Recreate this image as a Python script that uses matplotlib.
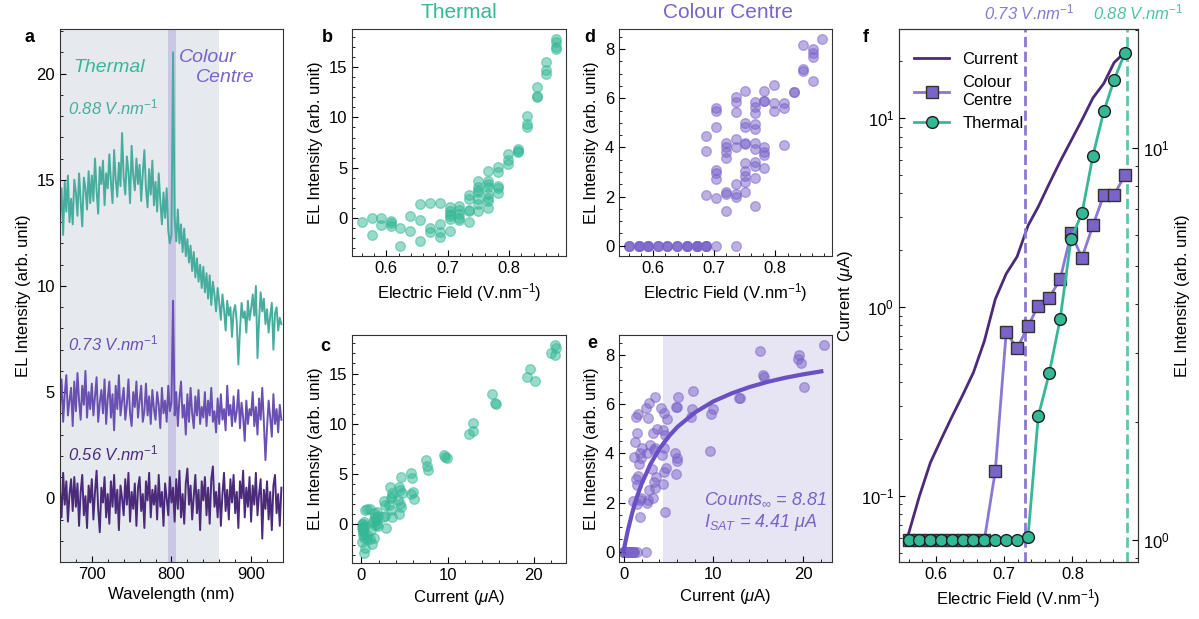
import numpy as np
import matplotlib.pyplot as plt
from matplotlib.ticker import AutoMinorLocator
import matplotlib.transforms as mtransforms
from matplotlib.lines import Line2D

plt.rcParams['font.family'] = ['Liberation Sans', 'DejaVu Sans']
plt.rcParams['font.size'] = 12
plt.rcParams['mathtext.fontset'] = 'custom'
plt.rcParams['mathtext.rm'] = 'Liberation Sans'
plt.rcParams['mathtext.it'] = 'Liberation Sans:italic'
plt.rcParams['mathtext.bf'] = 'Liberation Sans:bold'
plt.rcParams['xtick.direction'] = 'in'
plt.rcParams['ytick.direction'] = 'in'
plt.rcParams['xtick.major.size'] = 4
plt.rcParams['ytick.major.size'] = 4
plt.rcParams['xtick.minor.size'] = 2.5
plt.rcParams['ytick.minor.size'] = 2.5
plt.rcParams['axes.edgecolor'] = '#333333'

teal = '#35b896'
teal_line = '#47ad9e'
purple = '#7a63c9'
purple_line = '#6a50b0'
dark = '#4b2a7a'

# ---- panel a : spectra (2 nm steps, 660-938 nm) ----
wavelength = np.arange(660, 940, 2)

spec_088 = [
    13.2, 14.6, 12.4, 14.9, 13.5, 15.2, 13.0, 14.1, 12.9, 15.0,
    14.4, 13.3, 15.3, 14.0, 12.8, 15.1, 14.6, 13.6, 15.4, 13.9,
    15.2, 14.0, 16.0, 14.5, 13.4, 15.6, 14.8, 15.9, 13.8, 15.3,
    14.6, 16.2, 14.9, 13.9, 16.4, 15.0, 14.2, 15.8, 14.7, 17.2,
    15.1, 14.3, 16.1, 15.4, 13.9, 16.6, 15.2, 14.5, 16.0, 14.8,
    15.7, 14.0, 15.3, 16.4, 14.6, 13.7, 15.5, 14.3, 15.9, 13.8,
    14.9, 13.5, 15.3, 14.0, 12.9, 14.4, 13.2, 14.6, 12.6, 12.0,
    12.4, 21.0, 13.2, 12.1, 13.6, 12.0, 12.9, 11.6, 12.7, 11.4,
    12.2, 11.1, 11.9, 10.7, 11.6, 10.4, 11.3, 10.2, 11.0, 9.9,
    10.9, 9.7, 10.6, 9.4, 10.5, 9.1, 10.2, 9.6, 8.8, 9.9,
    9.2, 8.4, 9.6, 8.9, 7.9, 9.3, 8.6, 9.0, 7.6, 8.8,
    9.1, 8.3, 6.3, 7.9, 9.2, 8.5, 8.8, 7.8, 9.3, 8.4,
    8.9, 9.6, 8.6, 10.0, 6.6, 8.4, 9.7, 8.8, 9.4, 8.2,
    8.9, 7.8, 8.6, 9.2, 7.0, 8.7, 9.0, 7.9, 8.5, 8.2,
]

spec_073 = [
    4.3, 5.6, 3.6, 4.9, 5.8, 3.9, 4.6, 5.2, 3.4, 5.5,
    4.1, 5.9, 4.6, 3.7, 5.3, 4.4, 6.0, 3.8, 5.0, 4.2,
    5.4, 3.9, 4.8, 5.7, 3.6, 4.5, 5.1, 4.0, 5.6, 3.5,
    4.7, 5.5, 3.8, 4.9, 3.2, 5.3, 4.2, 5.8, 3.9, 4.6,
    5.2, 3.7, 4.4, 5.6, 4.0, 3.4, 5.0, 4.3, 5.5, 3.8,
    4.6, 5.3, 3.6, 4.1, 5.4, 3.9, 4.8, 3.5, 5.1, 4.2,
    3.7, 5.0, 4.4, 3.3, 5.2, 4.0, 4.6, 3.6, 5.3, 4.1,
    4.5, 9.3, 3.9, 5.0, 3.4, 4.7, 5.5, 3.8, 4.4, 3.0,
    4.9, 3.6, 5.2, 4.0, 3.3, 4.8, 3.9, 5.1, 3.5, 4.3,
    3.8, 5.0, 3.4, 4.6, 3.9, 5.2, 3.6, 4.1, 3.1, 4.7,
    3.5, 4.9, 3.7, 4.2, 3.2, 5.3, 3.9, 4.4, 3.4, 4.8,
    3.6, 4.1, 5.1, 3.3, 4.5, 3.8, 2.7, 4.6, 3.5, 4.2,
    3.9, 5.0, 3.4, 4.3, 3.0, 4.7, 3.7, 5.2, 3.6, 1.8,
    3.3, 4.6, 3.8, 2.9, 4.9, 3.5, 4.2, 3.1, 4.4, 3.7,
]

spec_056 = [
    0.4, -0.9, 1.2, -0.3, 0.8, -1.1, 0.2, 0.9, -0.6, 1.0,
    -0.4, 0.7, -1.3, 0.3, 1.1, -0.8, 0.1, -1.4, 0.6, -0.2,
    0.9, -1.0, 0.3, 1.3, -0.5, -1.6, 0.5, -0.2, 1.0, -0.9,
    0.2, -1.2, 0.8, -0.4, 1.1, -0.7, 0.4, -1.5, 0.6, 0.0,
    -0.8, 0.9, -0.3, 1.2, -1.1, 0.3, -0.5, 0.7, -1.3, 0.5,
    1.0, -0.6, 0.2, -1.4, 0.8, -0.1, 1.2, -0.9, 0.4, -0.3,
    0.6, -1.0, 1.1, -0.4, 0.3, -1.3, 0.7, 0.0, -0.8, 1.0,
    -0.2, 0.5, -1.1, 0.9, -0.5, 1.3, -0.9, 0.2, -1.2, 0.7,
    1.4, -0.3, 0.6, -1.0, 0.1, 1.1, -0.7, 0.4, -1.5, 0.8,
    -0.1, 1.0, -0.8, 0.5, -1.2, 0.9, 1.5, -0.4, 0.3, -0.9,
    0.7, -1.3, 0.2, 1.2, -0.6, 0.4, -1.0, 0.9, -0.2, 1.1,
    -0.7, 0.3, -1.4, 0.8, 0.0, 1.3, -0.9, 0.5, -0.4, 1.0,
    -1.1, 0.6, -0.3, 1.2, -0.8, 0.2, 0.9, -1.9, 0.4, -0.5,
    0.8, -1.0, 0.3, -1.5, 0.6, 1.1, -0.7, 0.2, -1.3, 0.5,
]

# ---- panels b-e : per-field measurements ----
fields = [0.560, 0.576, 0.592, 0.608, 0.623, 0.639, 0.655, 0.671, 0.687, 0.703, 0.719,
          0.735, 0.750, 0.766, 0.782, 0.798, 0.814, 0.830, 0.846, 0.861, 0.877]

thermal_pts = [
    [-0.4], [0.0, -1.7], [0.0, -0.7], [-0.3, -0.8, -0.5], [-1.0, -2.8], [0.2, -1.3],
    [1.4, -0.2, -2.3], [1.5, -1.0, -1.4], [1.5, -0.6, -1.4, -1.9],
    [1.1, 0.7, 0.2, -0.1, -1.3, 0.4], [1.2, 0.8, 0.4, -0.2, 0.0],
    [2.3, 1.9, 0.8, 0.7, -0.4], [3.7, 3.1, 2.6, 2.8, 1.9, 1.4, 0.7],
    [4.7, 3.7, 3.4, 3.1, 2.4, 2.0, 1.7, 1.0], [5.1, 4.6, 3.2, 3.0, 2.5],
    [6.4, 5.8, 5.4], [6.9, 6.7, 6.6], [10.1, 9.3, 9.0], [13.0, 12.1, 12.0],
    [15.5, 14.7, 14.3], [17.8, 17.5, 17.0, 16.8],
]
thermal_cur = [
    [0.05], [0.08, 0.10], [0.14, 0.16], [0.19, 0.21, 0.20], [0.25, 0.28], [0.33, 0.36],
    [0.44, 0.47, 0.42], [0.62, 0.68, 0.70], [1.05, 1.15, 1.0, 1.2],
    [1.45, 1.55, 1.4, 1.6, 1.5, 1.5], [1.8, 1.9, 1.75, 1.95, 1.85],
    [2.6, 2.7, 2.8, 2.5, 2.9], [3.3, 3.5, 3.4, 3.6, 3.2, 3.4, 3.5],
    [4.6, 4.4, 4.5, 4.7, 4.3, 4.5, 4.6, 4.4], [5.8, 5.9, 6.0, 5.7, 6.1],
    [7.5, 7.6, 7.7], [9.6, 9.7, 9.9], [12.9, 12.9, 12.5], [15.1, 15.5, 15.6],
    [19.5, 19.2, 20.1], [22.4, 22.6, 22.0, 22.5],
]

colour_pts = [
    [0, 0, 0], [0, 0, 0, 0], [0, 0, 0, 0], [0, 0, 0], [0, 0, 0], [0, 0, 0],
    [0, 0, 0, 0], [0, 0, 0, 0, 0], [0, 0, 0, 0, 2.05, 3.85, 4.45],
    [0, 1.95, 2.7, 2.95, 3.1, 4.85, 5.5, 5.6], [1.4, 2.1, 2.2, 3.55, 3.8, 4.0, 4.2],
    [0, 2.0, 2.1, 2.5, 4.0, 4.35, 5.45, 5.85, 6.05],
    [2.2, 2.6, 2.85, 3.05, 3.35, 4.15, 4.2, 4.85, 5.0, 6.3],
    [1.6, 2.75, 3.25, 3.4, 3.95, 4.2, 4.75, 4.95, 5.4, 5.65, 5.85],
    [3.15, 3.7, 3.8, 4.0, 5.9, 5.9, 6.3], [5.5, 5.8, 6.55], [4.1, 5.6, 5.8],
    [6.25, 6.25], [7.1, 7.2, 8.15], [6.7, 7.7, 7.85, 8.0], [8.4],
]
colour_cur = [
    [0.05, 0.06, 0.07], [0.09, 0.10, 0.11, 0.10], [0.14, 0.15, 0.16, 0.15],
    [0.19, 0.20, 0.21], [0.25, 0.26, 0.28], [0.33, 0.34, 0.36],
    [0.43, 0.45, 0.47, 0.44], [0.62, 0.66, 0.70, 0.64, 0.68],
    [1.05, 1.1, 1.15, 1.2, 1.0, 1.2, 1.25], [1.5, 1.45, 1.55, 1.4, 1.6, 1.5, 1.35, 1.6],
    [1.85, 1.8, 1.9, 1.75, 1.95, 1.85, 2.0], [2.5, 2.6, 2.7, 2.8, 2.65, 2.9, 2.75, 2.55, 2.85],
    [3.3, 3.5, 3.4, 3.6, 3.2, 3.4, 3.5, 3.3, 3.7, 3.5],
    [4.6, 4.4, 4.5, 4.7, 4.3, 4.5, 4.6, 4.4, 4.8, 4.5, 4.2],
    [5.8, 5.9, 6.0, 5.7, 5.8, 6.0, 6.1], [7.5, 7.6, 7.7], [9.6, 9.7, 9.9],
    [12.8, 12.9], [15.6, 15.5, 15.2], [20.1, 19.7, 19.4, 19.5], [22.3],
]

# saturation fit shown in panel e
fit_current = [0, 0.25, 0.5, 1, 1.5, 2, 3, 4, 5, 6, 8, 10, 12, 14, 16, 18, 20, 22]
fit_counts = [0, 0.47, 0.90, 1.63, 2.24, 2.75, 3.57, 4.19, 4.68, 5.08, 5.68, 6.12,
              6.44, 6.70, 6.91, 7.08, 7.22, 7.34]

# ---- panel f : averages per field ----
current_f = [0.063, 0.10, 0.15, 0.20, 0.26, 0.34, 0.45, 0.66, 1.1, 1.5, 1.85,
             2.7, 3.4, 4.5, 5.9, 7.6, 9.8, 12.8, 15.3, 19.7, 22.4]
colour_f = [1, 1, 1, 1, 1, 1, 1, 1, 1.5, 3.39, 3.08, 3.51, 3.96, 4.15, 4.62,
            6.05, 5.25, 6.34, 7.59, 7.59, 8.53]
thermal_f = [1, 1, 1, 1, 1, 1, 1, 1, 1, 1, 1, 1.02, 2.07, 2.66, 3.66,
             5.86, 6.81, 9.55, 12.4, 14.9, 17.5]


def flat(groups, keys):
    return [k for k, g in zip(keys, groups) for _ in g]


def vals(groups):
    return [v for g in groups for v in g]


def style(ax):
    ax.xaxis.set_minor_locator(AutoMinorLocator())
    ax.yaxis.set_minor_locator(AutoMinorLocator())
    ax.tick_params(which='both', top=False, right=False)


fig = plt.figure(figsize=(11.99, 6.19), dpi=100)
ax_a = fig.add_axes([0.0500, 0.0921, 0.1860, 0.8611])
ax_b = fig.add_axes([0.2936, 0.5864, 0.1785, 0.3667])
ax_c = fig.add_axes([0.2936, 0.0905, 0.1785, 0.3683])
ax_d = fig.add_axes([0.5163, 0.5864, 0.1777, 0.3667])
ax_e = fig.add_axes([0.5163, 0.0921, 0.1777, 0.3667])
ax_f = fig.add_axes([0.7498, 0.0921, 0.1993, 0.8611])

# a
ax_a.axvspan(660, 860, color='#e6eaee', lw=0, zorder=0)
ax_a.axvspan(796, 806, color='#c9c7e5', lw=0, zorder=0)
ax_a.plot(wavelength, spec_056, color=dark, lw=1.4)
ax_a.plot(wavelength, spec_073, color=purple_line, lw=1.4)
ax_a.plot(wavelength, spec_088, color=teal_line, lw=1.4)
ax_a.set_xlim(660, 940)
ax_a.set_ylim(-3, 22.1)
ax_a.set_xticks([700, 800, 900])
ax_a.set_yticks([0, 5, 10, 15, 20])
style(ax_a)
ax_a.set_xlabel('Wavelength (nm)')
ax_a.set_ylabel('EL Intensity (arb. unit)')
ax_a.text(722, 20.3, 'Thermal', color=teal, style='italic', fontsize=14, ha='center', va='center')
ax_a.text(845, 20.75, 'Colour', color=purple, style='italic', fontsize=14, ha='center', va='center')
ax_a.text(867, 19.8, 'Centre', color=purple, style='italic', fontsize=14, ha='center', va='center')
ax_a.text(670, 18.4, r'0.88 V.nm$^{-1}$', color=teal_line, style='italic', fontsize=12, va='center')
ax_a.text(670, 7.3, r'0.73 V.nm$^{-1}$', color=purple_line, style='italic', fontsize=12, va='center')
ax_a.text(670, 2.1, r'0.56 V.nm$^{-1}$', color=dark, style='italic', fontsize=12, va='center')

# b
ax_b.scatter(flat(thermal_pts, fields), vals(thermal_pts), s=48, color=teal, alpha=0.5, lw=1)
ax_b.set_xlabel(r'Electric Field (V.nm$^{-1}$)')
ax_b.set_ylabel('EL Intensity (arb. unit)')
ax_b.set_yticks([0, 5, 10, 15])
style(ax_b)

# c
ax_c.scatter(vals(thermal_cur), vals(thermal_pts), s=48, color=teal, alpha=0.5, lw=1)
ax_c.set_xlabel(r'Current ($\mu$A)')
ax_c.set_ylabel('EL Intensity (arb. unit)')
ax_c.set_yticks([0, 5, 10, 15])
ax_c.set_xticks([0, 10, 20])
style(ax_c)

# d
ax_d.scatter(flat(colour_pts, fields), vals(colour_pts), s=48, color=purple, alpha=0.5, lw=1)
ax_d.set_xlabel(r'Electric Field (V.nm$^{-1}$)')
ax_d.set_ylabel('EL Intensity (arb. unit)')
ax_d.set_yticks([0, 2, 4, 6, 8])
style(ax_d)

# e
ax_e.axvspan(4.41, 23.2, color='#e7e5f4', lw=0, zorder=0)
ax_e.scatter(vals(colour_cur), vals(colour_pts), s=48, color=purple, alpha=0.5, lw=1)
ax_e.plot(fit_current, fit_counts, color='#6a50c4', lw=3)
ax_e.set_xlim(-0.5, 23.2)
ax_e.set_ylim(-0.42, 8.82)
ax_e.set_xticks([0, 10, 20])
ax_e.set_yticks([0, 2, 4, 6, 8])
ax_e.set_xlabel(r'Current ($\mu$A)')
ax_e.set_ylabel('EL Intensity (arb. unit)')
style(ax_e)
ax_e.text(0.40, 0.275, r'$\mathit{Counts}_{\infty}$ = 8.81', transform=ax_e.transAxes, ha='left',
          va='center', color=purple, style='italic', fontsize=13)
ax_e.text(0.40, 0.175, r'$\mathit{I}_{\mathit{SAT}}$ = 4.41 $\mathit{\mu A}$', transform=ax_e.transAxes,
          ha='left', va='center', color=purple, style='italic', fontsize=13)

# f
ax_f.plot(fields, current_f, color=dark, lw=2)
ax_f.set_yscale('log')
ax_f.set_ylim(0.0446, 29.7)
ax_f.set_xlim(0.546, 0.896)
ax_f.set_xticks([0.6, 0.7, 0.8])
ax_f.xaxis.set_minor_locator(AutoMinorLocator())
ax_f.tick_params(which='both', top=False, right=False)
ax_f.set_xlabel(r'Electric Field (V.nm$^{-1}$)')
ax_f.set_ylabel(r'Current ($\mu$A)')
ax_r = ax_f.twinx()
ax_r.set_yscale('log')
ax_r.set_ylim(0.879, 20.1)
ax_r.axvline(0.73, color='#8a77d6', ls='--', lw=2)
ax_r.axvline(0.88, color='#5cc7ad', ls='--', lw=2)
ax_r.plot(fields, colour_f, color='#8a77d6', lw=2, marker='s', ms=8, mfc='#7a63c9', mec='#333333', mew=1)
ax_r.plot(fields, thermal_f, color=teal, lw=2, marker='o', ms=8.5, mfc=teal, mec='#1f1f1f', mew=1)
ax_r.set_ylabel('EL Intensity (arb. unit)')
ax_r.tick_params(which='both', direction='in')
trans = mtransforms.blended_transform_factory(ax_f.transData, ax_f.transAxes)
ax_f.text(0.737, 1.012, r'0.73 V.nm$^{-1}$', transform=trans, ha='center', va='bottom',
          color='#8a77d6', style='italic', fontsize=12)
ax_f.text(0.896, 1.012, r'0.88 V.nm$^{-1}$', transform=trans, ha='center', va='bottom',
          color='#4cc3a4', style='italic', fontsize=12)
handles = [
    Line2D([], [], color=dark, lw=2),
    Line2D([], [], color='#8a77d6', lw=2, marker='s', ms=8, mfc='#7a63c9', mec='#333333'),
    Line2D([], [], color=teal, lw=2, marker='o', ms=8.5, mfc=teal, mec='#1f1f1f'),
]
ax_r.legend(handles, ['Current', 'Colour\nCentre', 'Thermal'], loc='upper left',
            bbox_to_anchor=(0.0, 0.985), frameon=False, handlelength=2.1, fontsize=12)

# panel letters and column titles
for lbl, x, y in [('a', 0.025, 0.939), ('b', 0.2727, 0.940), ('c', 0.271, 0.441),
                  ('d', 0.492, 0.940), ('e', 0.4937, 0.4443), ('f', 0.7223, 0.940)]:
    fig.text(x, y, lbl, fontsize=13, fontweight='bold', ha='center', va='center')
fig.text(0.383, 0.979, 'Thermal', color=teal, fontsize=15, ha='center', va='center')
fig.text(0.607, 0.979, 'Colour Centre', color=purple, fontsize=15, ha='center', va='center')

fig.savefig('out.png', dpi=100)
